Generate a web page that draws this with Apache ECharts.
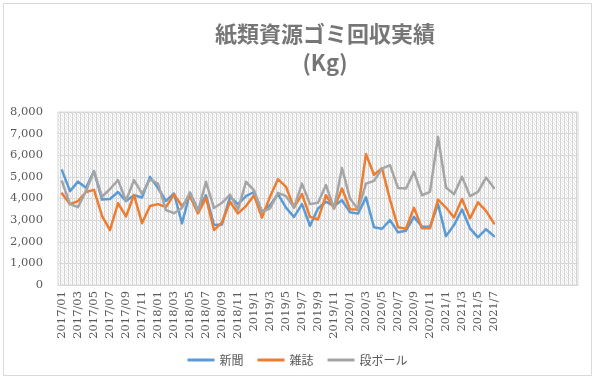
<!DOCTYPE html>
<html><head><meta charset="utf-8">
<script src="https://cdn.jsdelivr.net/npm/echarts@6/dist/echarts.min.js"></script>
<style>html,body{margin:0;padding:0;background:#fff}#c{width:595px;height:380px}</style>
</head><body><div id="c"></div>
<script>
const titleText = '紙類資源ゴミ回収実績\n(Kg)';
const seriesNames = ['新聞', '雑誌', '段ボール'];
const categories = [
 '2017/01','2017/02','2017/03','2017/04','2017/05','2017/06','2017/07','2017/08','2017/09','2017/10','2017/11','2017/12',
 '2018/01','2018/02','2018/03','2018/04','2018/05','2018/06','2018/07','2018/08','2018/09','2018/10','2018/11','2018/12',
 '2019/1','2019/2','2019/3','2019/4','2019/5','2019/6','2019/7','2019/8','2019/9','2019/10','2019/11','2019/12',
 '2020/1','2020/2','2020/3','2020/4','2020/5','2020/6','2020/7','2020/8','2020/9','2020/10','2020/11','2020/12',
 '2021/1','2021/2','2021/3','2021/4','2021/5','2021/6','2021/7',
 '','','','','','','','','',''
];
const shinbun = [5300,4340,4780,4500,5260,3950,3980,4300,3880,4150,4050,5000,
 4480,3890,4230,2850,4260,3460,4150,2770,2800,4080,3740,4110,
 4300,3380,3690,4200,3580,3150,3740,2740,3540,3850,3650,3920,
 3360,3300,4050,2670,2600,3000,2440,2510,3150,2690,2690,3740,
 2260,2770,3490,2620,2200,2580,2260];
const zasshi = [4230,3740,3880,4300,4400,3200,2540,3780,3170,4170,2860,3650,
 3740,3600,4190,3650,4100,3310,4040,2540,2900,3850,3310,3650,
 4150,3120,4080,4890,4540,3580,4200,3150,3030,4150,3540,4460,
 3500,3490,6050,5100,5400,3950,2670,2600,3570,2620,2620,3950,
 3580,3120,3980,3080,3820,3430,2850];
const danball = [4790,3740,3600,4340,5270,4080,4440,4850,3900,4850,4230,4880,
 4690,3460,3320,3560,4270,3420,4770,3560,3800,4180,3490,4770,
 4380,3380,3540,4260,4110,3580,4690,3740,3800,4620,3540,5410,
 4000,3500,4690,4815,5380,5540,4490,4460,5230,4150,4310,6850,
 4510,4200,5000,4110,4310,4970,4480];
const yTicks = {min: 0, max: 8000, interval: 1000};

// hatch pattern for plot area
const pc = document.createElement('canvas');
pc.width = 4; pc.height = 4;
const g = pc.getContext('2d');
g.fillStyle = '#ffffff'; g.fillRect(0, 0, 4, 4);
g.fillStyle = '#d4d4d4'; g.fillRect(0, 0, 1, 4);
g.fillStyle = '#e6e6e6'; g.fillRect(2, 0, 1, 1); g.fillRect(3, 1, 1, 1); g.fillRect(1, 2, 1, 1); g.fillRect(2, 3, 1, 1);

const colors = ['#5B9BD5', '#ED7D31', '#A5A5A5'];
const chart = echarts.init(document.getElementById('c'), null, {renderer: 'canvas'});
const mk = (name, data, color) => ({
  name, type: 'line', data, symbol: 'none', smooth: false,
  lineStyle: {width: 2.5, color, cap: 'round', join: 'round'},
  itemStyle: {color}, animation: false
});
chart.setOption({
  animation: false,
  color: colors,
  title: {
    text: titleText, left: 320, top: 14, textAlign: 'center',
    textStyle: {fontFamily: 'Noto Sans CJK JP', fontSize: 22, fontWeight: 'bold', color: '#767676', lineHeight: 29}
  },
  graphic: [{type: 'rect', shape: {x: 3.5, y: 3.5, width: 588, height: 372}, style: {fill: 'none', stroke: '#d9d9d9', lineWidth: 1}, silent: true, z: -10}],
  legend: {
    data: seriesNames, left: 'center', top: 349, itemWidth: 27, itemHeight: 3, itemGap: 14,
    icon: 'rect',
    textStyle: {fontFamily: 'Noto Sans CJK JP', fontSize: 12, color: '#595959'}
  },
  grid: {
    left: 58, right: 17, top: 112, bottom: 95, containLabel: false,
    show: true, backgroundColor: {image: pc, repeat: 'repeat'}, borderWidth: 1, borderColor: '#d9d9d9'
  },
  xAxis: {
    type: 'category', data: categories, boundaryGap: true,
    axisLine: {lineStyle: {color: '#d9d9d9'}},
    axisTick: {show: false},
    axisLabel: {interval: 1, rotate: 90, margin: 6, fontFamily: 'DejaVu Serif', fontSize: 11.5, color: '#595959'},
    splitLine: {show: false}
  },
  yAxis: {
    type: 'value', min: yTicks.min, max: yTicks.max, interval: yTicks.interval,
    axisLine: {show: false}, axisTick: {show: false},
    axisLabel: {margin: 15, fontFamily: 'DejaVu Serif', fontSize: 11.5, color: '#595959',
      formatter: v => v.toLocaleString('en-US')},
    splitLine: {lineStyle: {color: '#d9d9d9', width: 1}}
  },
  series: [mk(seriesNames[0], shinbun, colors[0]), mk(seriesNames[1], zasshi, colors[1]), mk(seriesNames[2], danball, colors[2])]
});
</script></body></html>
